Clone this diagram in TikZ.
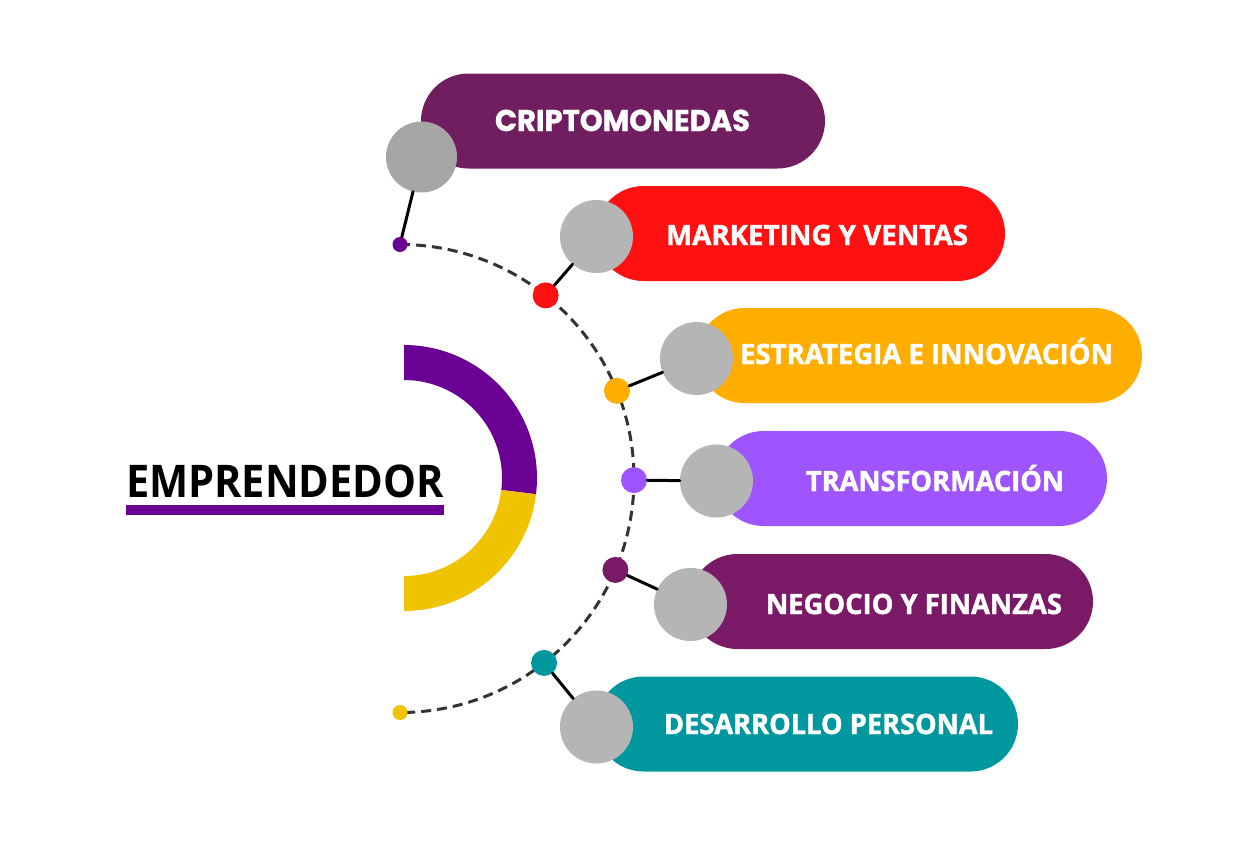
\documentclass[tikz,border=0pt]{standalone}
\usepackage{fontspec}
\setmainfont{Open Sans}
\newfontfamily\popfont{Poppins}[BoldFeatures={FakeBold=1.2}]
\newfontfamily\heavyfont{Open Sans}[BoldFeatures={FakeBold=1.6}]
\usetikzlibrary{shapes.misc,calc}
\definecolor{cPillA}{HTML}{701E5F}
\definecolor{cPillB}{HTML}{FF1111}
\definecolor{cPillC}{HTML}{FFAE00}
\definecolor{cPillD}{HTML}{9E55FF}
\definecolor{cPillE}{HTML}{7A1A66}
\definecolor{cPillF}{HTML}{00979E}
\definecolor{cGrayA}{HTML}{A6A6A6}
\definecolor{cGrayB}{HTML}{B5B5B5}
\definecolor{cRingP}{HTML}{6A0094}
\definecolor{cRingY}{HTML}{F0C300}
\definecolor{cDash}{HTML}{333333}
\newsavebox\lblbox
\newcommand\fitlabel[2]{\sbox\lblbox{#2}\pgfmathsetmacro\sxf{#1/\the\wd\lblbox}\scalebox{\sxf}[1]{\usebox\lblbox}}
\begin{document}
\begin{tikzpicture}[x=1pt,y=-1pt,
  pill/.style={rounded rectangle, fill=#1, minimum height=95pt, inner sep=0pt, draw=none},
  gcirc/.style={circle, fill=#1, minimum size=73pt, inner sep=0pt},
  bigdot/.style={circle, fill=#1, minimum size=26pt, inner sep=0pt},
  smalldot/.style={circle, fill=#1, minimum size=15pt, inner sep=0pt},
  lbl/.style={text=white, anchor=base, inner sep=0pt, font=\fontsize{28}{30}\selectfont\heavyfont\bfseries},
  conn/.style={line width=3pt, black, line cap=round},
  arcline/.style={line width=3pt, dash pattern=on 10pt off 6pt, color=cDash}]
\useasboundingbox[fill=white] (0,0) rectangle (1250,849);

% central ring
\coordinate (rc) at (404,478);
\fill[cRingP] ($(rc)+(-90:133)$) arc[start angle=-90, end angle=7, radius=133]
  -- ($(rc)+(7:98)$) arc[start angle=7, end angle=-90, radius=98] -- cycle;
\fill[cRingY] ($(rc)+(7:133)$) arc[start angle=7, end angle=90, radius=133]
  -- ($(rc)+(90:98)$) arc[start angle=90, end angle=7, radius=98] -- cycle;

% title
\node[anchor=base, inner sep=0pt, font=\fontsize{45}{48}\selectfont\bfseries] (title) at (285,497) {\fitlabel{318}{EMPRENDEDOR}};
\fill[cRingP] (126,505) rectangle (444,515);

% dashed arc
\coordinate (ac) at (400,478.5);
\draw[arcline] ($(ac)+(-90:234)$) arc[start angle=-90, end angle=90, radius=234];

% pills
\node[pill=cPillA, minimum width=404pt] (p1) at (623,121) {};
\node[pill=cPillB, minimum width=409pt] (p2) at (800.5,233.5) {};
\node[pill=cPillC, minimum width=445pt] (p3) at (919.5,355.5) {};
\node[pill=cPillD, minimum width=391pt] (p4) at (911.5,478.5) {};
\node[pill=cPillE, minimum width=403pt] (p5) at (891.5,601.5) {};
\node[pill=cPillF, minimum width=422pt] (p6) at (807,724) {};

% labels
\node[lbl, font=\fontsize{30}{32}\selectfont\popfont\bfseries] (t1) at (622.5,131) {\fitlabel{255}{CRIPTOMONEDAS}};
\node[lbl] (t2) at (817,245) {\fitlabel{302}{MARKETING Y VENTAS}};
\node[lbl] (t3) at (926.5,364) {\fitlabel{373}{ESTRATEGIA E INNOVACIÓN}};
\node[lbl] (t4) at (935,491) {\fitlabel{258}{TRANSFORMACIÓN}};
\node[lbl] (t5) at (914,614) {\fitlabel{296}{NEGOCIO Y FINANZAS}};
\node[lbl] (t6) at (828.5,734) {\fitlabel{329}{DESARROLLO PERSONAL}};

% gray circles
\node[gcirc=cGrayA, minimum size=71pt] (g1) at (421.5,157) {};
\node[gcirc=cGrayB] (g2) at (596.5,236.5) {};
\node[gcirc=cGrayB] (g3) at (696.5,358.5) {};
\node[gcirc=cGrayB] (g4) at (716.5,481) {};
\node[gcirc=cGrayB] (g5) at (690.5,604.5) {};
\node[gcirc=cGrayB] (g6) at (596.5,727) {};

% dots on the arc
\node[smalldot=cRingP] (d1) at ($(ac)+(-90:234)$) {};
\node[bigdot=cPillB] (d2) at ($(ac)+(-51.5:234)$) {};
\node[bigdot=cPillC] (d3) at ($(ac)+(-22:234)$) {};
\node[bigdot=cPillD] (d4) at ($(ac)+(0.4:234)$) {};
\node[bigdot=cPillE] (d5) at ($(ac)+(23:234)$) {};
\node[bigdot=cPillF] (d6) at ($(ac)+(52:234)$) {};
\node[smalldot=cRingY] (d7) at ($(ac)+(90:234)$) {};

% connectors
\draw[conn] (d1) -- (g1);
\draw[conn] (d2) -- (g2);
\draw[conn] (d3) -- (g3);
\draw[conn] (d4) -- (g4);
\draw[conn] (d5) -- (g5);
\draw[conn] (d6) -- (g6);
\end{tikzpicture}
\end{document}
